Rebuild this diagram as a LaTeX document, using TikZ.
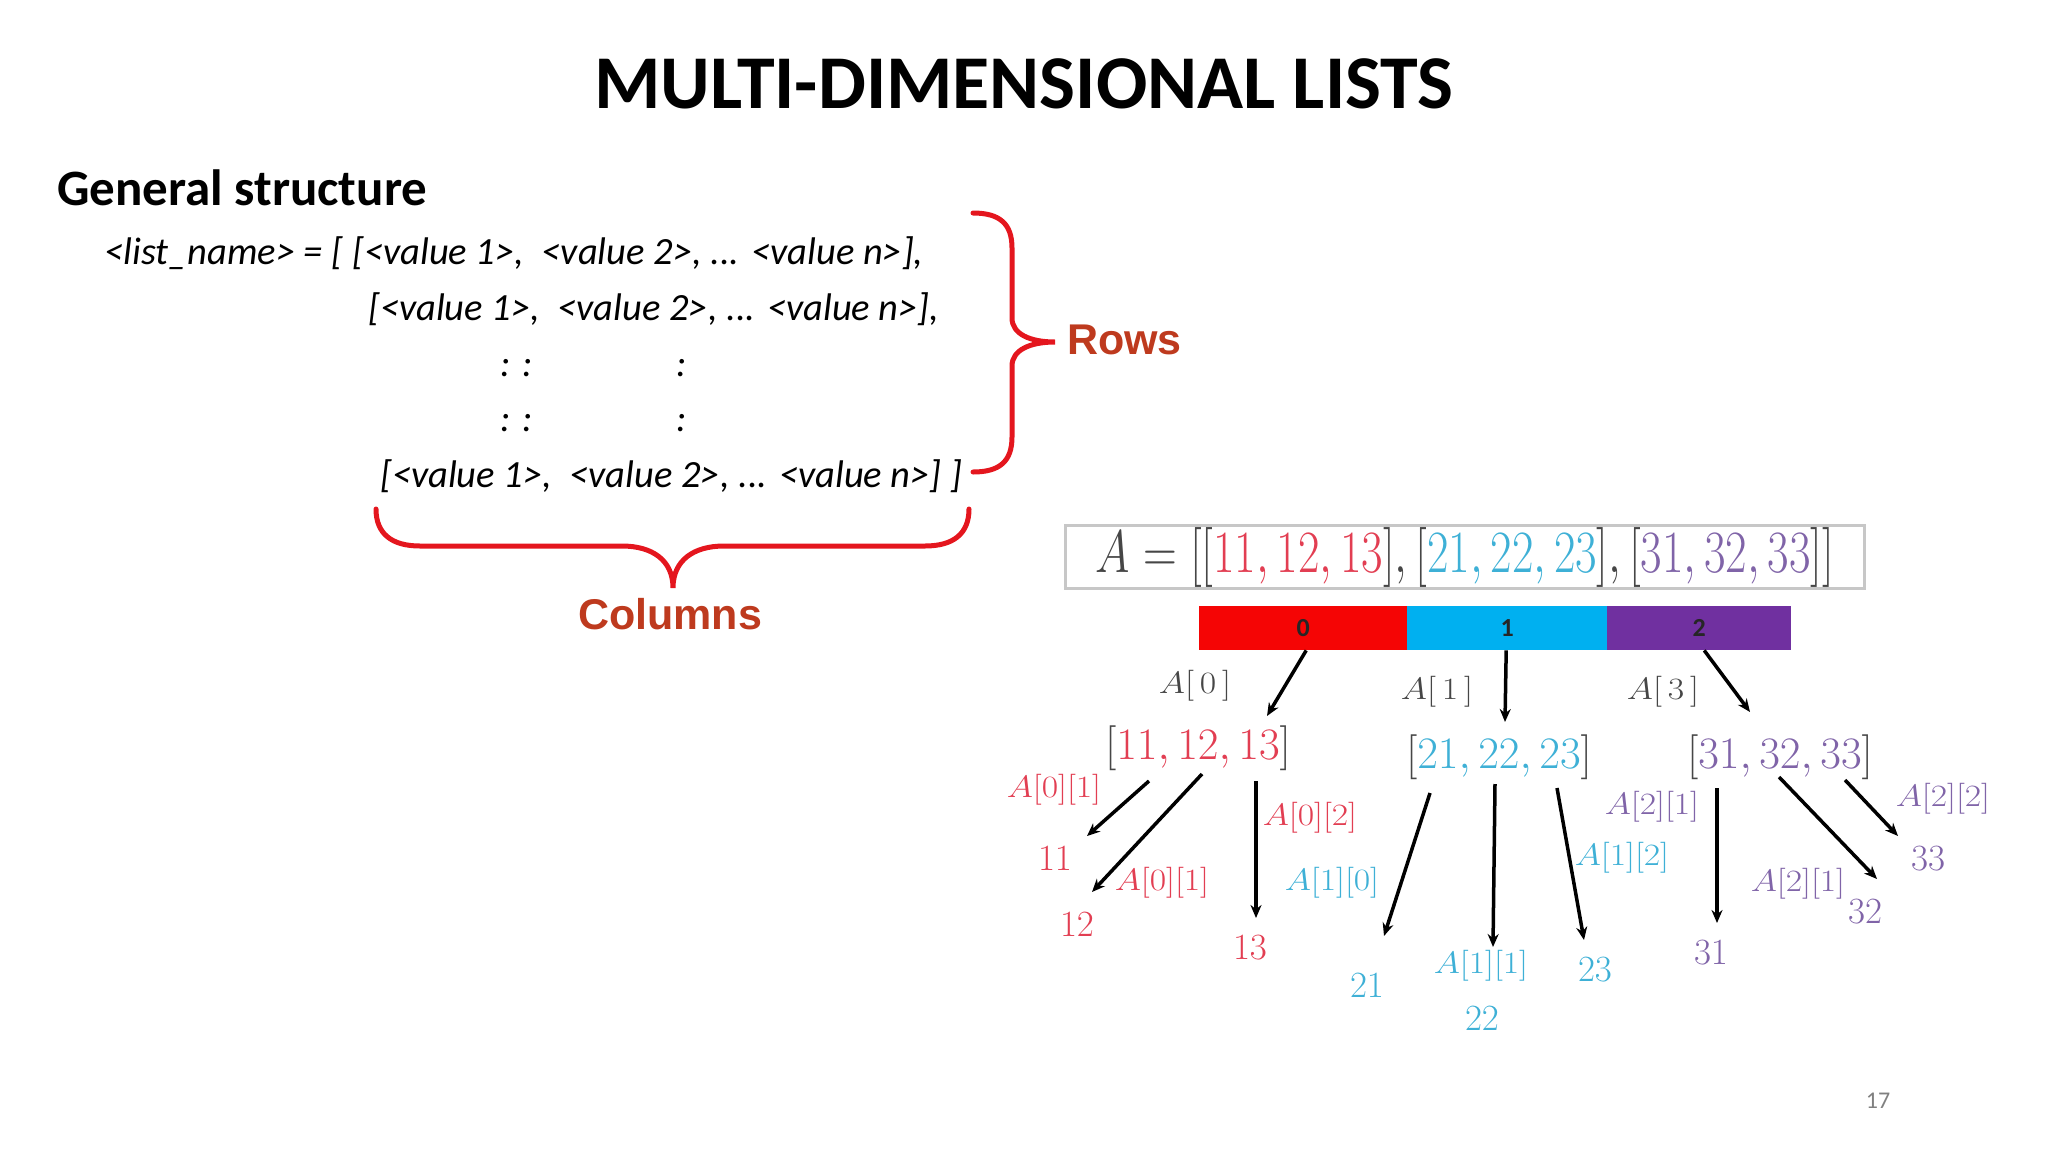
\RequirePackage{fix-cm}
\documentclass[tikz,border=0pt]{standalone}
\usepackage[no-math]{fontspec}
\usepackage{graphicx}
\setmainfont{Carlito}
\newfontfamily\arialfont{Liberation Sans}
\usetikzlibrary{arrows.meta}
\definecolor{bracered}{RGB}{228,22,30}
\definecolor{labred}{RGB}{190,58,30}
\definecolor{dred}{RGB}{226,62,82}
\definecolor{dblue}{RGB}{62,176,214}
\definecolor{dpurp}{RGB}{128,100,168}
\definecolor{barred}{RGB}{245,5,5}
\definecolor{barblue}{RGB}{0,176,240}
\definecolor{barpurp}{RGB}{112,48,160}
\definecolor{brk}{RGB}{70,70,70}
\newcommand{\wlab}[1]{\scalebox{1.15}[1]{$#1$}}
\begin{document}
\begin{tikzpicture}[x=1pt,y=-1pt,
  code/.style={anchor=base west,inner sep=0pt,font=\fontsize{38.5}{46}\selectfont\itshape},
  bigred/.style={text=labred,inner sep=0pt,font=\arialfont\bfseries\fontsize{43}{50}\selectfont},
  brace/.style={draw=bracered,line width=5pt,line join=miter,line cap=round},
  arr/.style={line width=3.5pt,-{Stealth[length=13pt,width=11pt]}},
  sub/.style={inner sep=0pt,font=\fontsize{45}{52}\selectfont},
  lab/.style={inner sep=0pt,font=\fontsize{31}{36}\selectfont},
  leaf/.style={inner sep=0pt,font=\fontsize{37}{42}\selectfont},
  barseg/.style={anchor=north west,inner sep=0pt,minimum height=44pt,font=\bfseries\fontsize{26}{28}\selectfont,text=black!85}
]
\useasboundingbox (0,0) rectangle (2048,1152);
% title
\node[anchor=base,inner sep=0pt,font=\bfseries\fontsize{76}{90}\selectfont] (title) at (1024,108) {MULTI-DIMENSIONAL LISTS};
\node[anchor=base west,inner sep=0pt,font=\bfseries\fontsize{51}{60}\selectfont] (gen) at (57,205) {General structure};
% code lines
\node[code] (c1) at (104,264) {<list\_name> = [ [<value 1>,\ \ <value 2>, ... <value n>],};
\node[code] (c2) at (368,320) {[<value 1>,\ \ <value 2>, ... <value n>],};
\node[code] (c3a) at (500,376) {: :};
\node[code] (c3b) at (676,376) {:};
\node[code] (c4a) at (500,431) {: :};
\node[code] (c4b) at (676,431) {:};
\node[code] (c5) at (380,487) {[<value 1>,\ \ <value 2>, ... <value n>] ]};
% braces
\draw[brace] (973,213) .. controls (1000,213) and (1012,224) .. (1012,248) -- (1012,318) .. controls (1012,334) and (1030,342) .. (1055,342)
  .. controls (1030,342) and (1012,350) .. (1012,366) -- (1012,437) .. controls (1012,461) and (1000,472) .. (973,472);
\node[bigred,anchor=west] (rows) at (1067,340) {Rows};
\draw[brace] (376,509) .. controls (376,534) and (392,546) .. (420,546) -- (622,546) .. controls (652,546) and (673,560) .. (673,588)
  .. controls (673,560) and (694,546) .. (724,546) -- (925,546) .. controls (953,546) and (969,534) .. (969,509);
\node[bigred] (cols) at (670,614) {Columns};
% diagram: top box
\node[draw=black!22,line width=2.5pt,minimum width=799pt,minimum height=63pt,inner sep=0pt,font=\fontsize{60}{66}\selectfont] (box) at (1465,557)
  {\scalebox{0.78}[1]{$\color{brk}A = \Big[[\textcolor{dred}{11,12,13}],[\textcolor{dblue}{21,22,23}],[\textcolor{dpurp}{31,32,33}]\Big]$}};
% bar
\node[barseg,fill=barred,minimum width=208pt] (b0) at (1199,606) {0};
\node[barseg,fill=barblue,minimum width=200pt] (b1) at (1407,606) {1};
\node[barseg,fill=barpurp,minimum width=184pt] (b2) at (1607,606) {2};
% first level
\node[lab,text=brk] (t0) at (1195,686) {\wlab{A[\,0\,]}};
\node[lab,text=brk] (t1) at (1437,692) {\wlab{A[\,1\,]}};
\node[lab,text=brk] (t2) at (1663,692) {\wlab{A[\,3\,]}};
\node[sub] (s0) at (1198,748) {$\color{brk}[\textcolor{dred}{11,12,13}]$};
\node[sub] (s1) at (1499,757) {$\color{brk}[\textcolor{dblue}{21,22,23}]$};
\node[sub] (s2) at (1780,757) {$\color{brk}[\textcolor{dpurp}{31,32,33}]$};
\coordinate (e0) at (1267,716);
\coordinate (e1) at (1505,722);
\coordinate (e2) at (1750,712);
\draw[arr] ([xshift=3pt]b0.south) -- (e0);
\draw[arr] ([xshift=-1pt]b1.south) -- (e1);
\draw[arr] ([xshift=5pt]b2.south) -- (e2);
% leaves
\node[leaf,text=dred] (l11) at (1055,859) {$11$};
\node[leaf,text=dred] (l12) at (1077,925) {$12$};
\node[leaf,text=dred] (l13) at (1250,948) {$13$};
\node[leaf,text=dblue] (l21) at (1367,986) {$21$};
\node[leaf,text=dblue] (l22) at (1482,1019) {$22$};
\node[leaf,text=dblue] (l23) at (1595,970) {$23$};
\node[leaf,text=dpurp] (l31) at (1711,953) {$31$};
\node[leaf,text=dpurp] (l32) at (1865,912) {$32$};
\node[leaf,text=dpurp] (l33) at (1928,859) {$33$};
% leaf labels
\node[lab,text=dred] at (1054,790) {\wlab{A[0][1]}};
\node[lab,text=dred] at (1162,883) {\wlab{A[0][1]}};
\node[lab,text=dred] at (1310,818) {\wlab{A[0][2]}};
\node[lab,text=dblue] at (1332,883) {\wlab{A[1][0]}};
\node[lab,text=dblue] at (1481,966) {\wlab{A[1][1]}};
\node[lab,text=dblue] at (1622,858) {\wlab{A[1][2]}};
\node[lab,text=dpurp] at (1652,807) {\wlab{A[2][1]}};
\node[lab,text=dpurp] at (1798,884) {\wlab{A[2][1]}};
\node[lab,text=dpurp] at (1943,799) {\wlab{A[2][2]}};
% leaf arrows
\coordinate (p11) at (1149,781); \coordinate (q11) at (1087,836);
\coordinate (p12) at (1202,774); \coordinate (q12) at (1092,892);
\coordinate (p13) at (1256,781); \coordinate (q13) at (1256,918);
\coordinate (p21) at (1430,793); \coordinate (q21) at (1384,936);
\coordinate (p22) at (1495,784); \coordinate (q22) at (1493,947);
\coordinate (p23) at (1557,788); \coordinate (q23) at (1584,940);
\coordinate (p31) at (1717,788); \coordinate (q31) at (1717,923);
\coordinate (p32) at (1779,777); \coordinate (q32) at (1877,879);
\coordinate (p33) at (1845,780); \coordinate (q33) at (1898,836);
\foreach \k in {11,12,13,21,22,23,31,32,33} {\draw[arr] (p\k) -- (q\k);}
% page number
\node[inner sep=0pt,text=black!50,font=\fontsize{24}{28}\selectfont] (pg) at (1878,1101) {17};
\end{tikzpicture}
\end{document}
